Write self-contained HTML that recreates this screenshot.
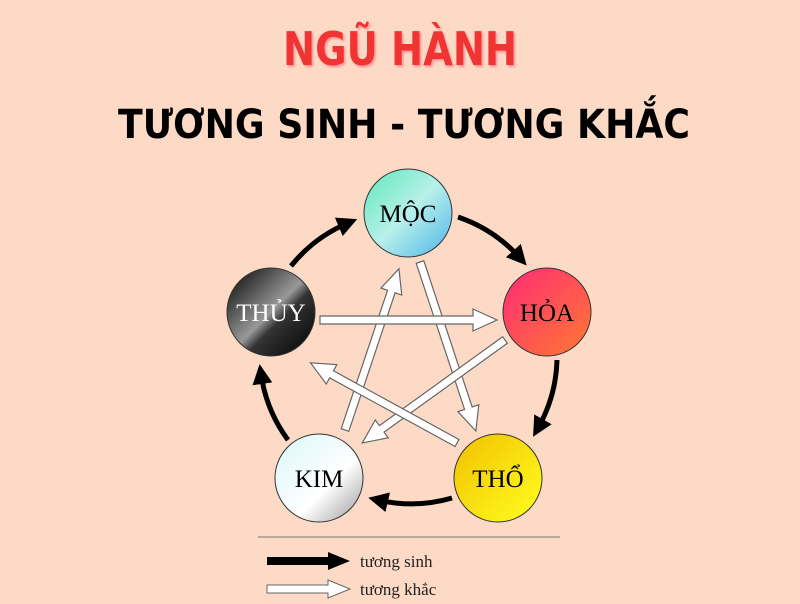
<!DOCTYPE html>
<html><head><meta charset="utf-8"><style>
html,body{margin:0;padding:0;background:#fddac5;}
svg{display:block}
</style></head><body>
<svg width="800" height="604" viewBox="0 0 800 604" xmlns="http://www.w3.org/2000/svg">
<defs>
<linearGradient id="gm" x1="0" y1="0" x2="1" y2="1"><stop offset="0" stop-color="#5de8b8"/><stop offset="0.5" stop-color="#b8f0ea"/><stop offset="1" stop-color="#4ab4ea"/></linearGradient>
<linearGradient id="gh" x1="0" y1="0" x2="1" y2="1"><stop offset="0" stop-color="#ff2a78"/><stop offset="1" stop-color="#ff7a30"/></linearGradient>
<linearGradient id="gt" x1="0" y1="0" x2="1" y2="1"><stop offset="0" stop-color="#000"/><stop offset="0.5" stop-color="#999"/><stop offset="0.6" stop-color="#333"/><stop offset="1" stop-color="#000"/></linearGradient>
<linearGradient id="gk" x1="0" y1="0" x2="1" y2="1"><stop offset="0" stop-color="#d8f6f8"/><stop offset="0.6" stop-color="#fff"/><stop offset="1" stop-color="#999"/></linearGradient>
<linearGradient id="go" x1="0" y1="0" x2="1" y2="1"><stop offset="0" stop-color="#f2c000"/><stop offset="1" stop-color="#ffff20"/></linearGradient>
<marker id="bh" markerWidth="4" markerHeight="4" refX="2" refY="2" orient="auto" markerUnits="strokeWidth"><path d="M0,0 L4,2 L0,4 z" fill="#000"/></marker>
</defs>
<text x="400" y="65" text-anchor="middle" font-family="DejaVu Sans, sans-serif" font-weight="bold" font-size="46" fill="#f03434" textLength="234" lengthAdjust="spacingAndGlyphs" style="text-shadow:2px 2px 2px #f99">NGŨ HÀNH</text>
<text x="404" y="138" text-anchor="middle" font-family="DejaVu Sans, sans-serif" font-weight="bold" font-size="40" fill="#000" textLength="572" lengthAdjust="spacingAndGlyphs">TƯƠNG SINH - TƯƠNG KHẮC</text>

<g fill="none" stroke="#000" stroke-width="5">
<path d="M458,217 A146,146 0 0 1 520,258" marker-end="url(#bh)"/>
<path d="M557,360 A146,146 0 0 1 538,428" marker-end="url(#bh)"/>
<path d="M452,498 A146,146 0 0 1 378,500" marker-end="url(#bh)"/>
<path d="M288,440 A146,146 0 0 1 261,374" marker-end="url(#bh)"/>
<path d="M291,266 A146,146 0 0 1 348,223" marker-end="url(#bh)"/>
</g>

<g stroke="#666" stroke-width="1.2" fill="#fff">
<g transform="translate(345,430) rotate(-71.5)"><path d="M0,-4 L146,-4 L146,-11 L170,0 L146,11 L146,4 L0,4 z"/></g>
<g transform="translate(420,262) rotate(71.7)"><path d="M0,-4 L154,-4 L154,-11 L178,0 L154,11 L154,4 L0,4 z"/></g>
<g transform="translate(320,320)"><path d="M0,-4 L153,-4 L153,-11 L177,0 L153,11 L153,4 L0,4 z"/></g>
<g transform="translate(505,340) rotate(144.2)"><path d="M0,-4 L152,-4 L152,-11 L176,0 L152,11 L152,4 L0,4 z"/></g>
<g transform="translate(457,443) rotate(-151.3)"><path d="M0,-4 L143,-4 L143,-11 L167,0 L143,11 L143,4 L0,4 z"/></g>
</g>

<g stroke="#333" stroke-width="1">
<circle cx="408" cy="213" r="44" fill="url(#gm)"/>
<circle cx="547" cy="312" r="44" fill="url(#gh)"/>
<circle cx="271" cy="312" r="44" fill="url(#gt)"/>
<circle cx="319" cy="478" r="44" fill="url(#gk)"/>
<circle cx="498" cy="478" r="44" fill="url(#go)"/>
</g>
<g font-family="Liberation Serif, serif" font-size="25" text-anchor="middle">
<text x="408" y="222">MỘC</text>
<text x="547" y="321">HỎA</text>
<text x="271" y="321" fill="#fff">THỦY</text>
<text x="319" y="487">KIM</text>
<text x="498" y="487">THỔ</text>
</g>

<line x1="258" y1="537" x2="560" y2="537" stroke="#777" stroke-width="1"/>
<path d="M267,557 L328,557 L328,552 L350,561 L328,570 L328,565 L267,565 z" fill="#000"/>
<path d="M267,585 L328,585 L328,580 L350,589 L328,598 L328,593 L267,593 z" fill="#fff" stroke="#666" stroke-width="1"/>
<g font-family="Liberation Serif, serif" font-size="17" fill="#222">
<text x="360" y="567">tương sinh</text>
<text x="360" y="595">tương khắc</text>
</g>
</svg>
</body></html>
